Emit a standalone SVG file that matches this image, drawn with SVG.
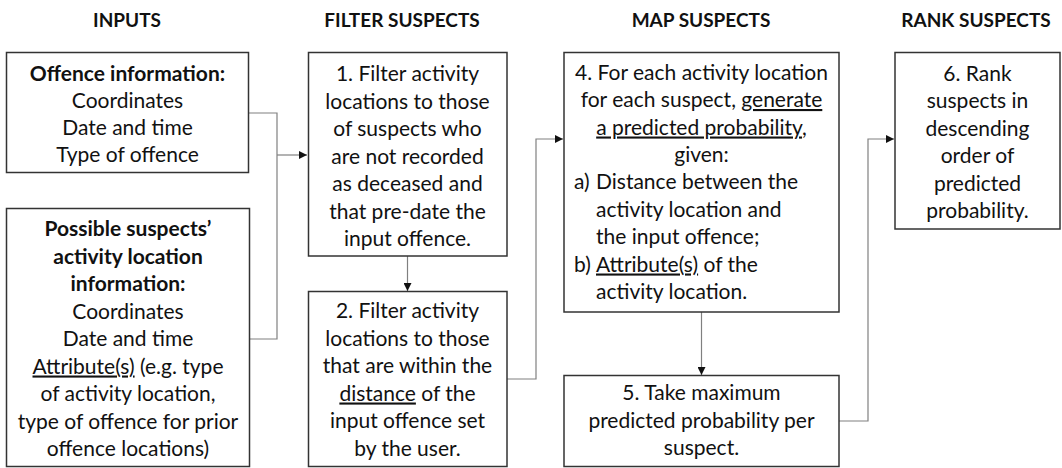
<svg xmlns="http://www.w3.org/2000/svg" width="1062" height="468" viewBox="0 0 1062 468">
<defs>
<style>
.t{font-family:Lato,"Liberation Sans",sans-serif;font-size:21px;fill:#111;}
.c{text-anchor:middle;}
.b{font-weight:bold;}
.h{font-family:Lato,"Liberation Sans",sans-serif;font-size:19px;font-weight:bold;fill:#111;text-anchor:middle;}
.box{fill:#fff;stroke:#333;stroke-width:1.5;}
.ln{fill:none;stroke:#808080;stroke-width:1.2;}
.u{text-decoration:underline;}
</style>
<marker id="ah" viewBox="0 0 10 10" refX="10" refY="5" markerWidth="8" markerHeight="8" markerUnits="userSpaceOnUse" orient="auto">
<path d="M0,0 L10,5 L0,10 z" fill="#111"/>
</marker>
</defs>
<rect width="1062" height="468" fill="#fff"/>
<g id="titles">
<text class="h" x="127" y="27">INPUTS</text>
<text class="h" x="402" y="27">FILTER SUSPECTS</text>
<text class="h" x="701" y="27">MAP SUSPECTS</text>
<text class="h" x="976" y="27">RANK SUSPECTS</text>
</g>
<g id="connectors">
<path class="ln" d="M248,113 H277 V339 H250"/>
<path class="ln" d="M277,155 H307" marker-end="url(#ah)"/>
<path class="ln" d="M407.5,256 V291" marker-end="url(#ah)"/>
<path class="ln" d="M507,379 H536 V139 H563" marker-end="url(#ah)"/>
<path class="ln" d="M701.5,312 V375" marker-end="url(#ah)"/>
<path class="ln" d="M839,421 H868 V139 H894" marker-end="url(#ah)"/>
</g>
<g id="offence-info">
<rect class="box" x="6.5" y="52.5" width="242" height="120"/>
<text class="t c" x="127.5"><tspan class="b" x="127.5" y="80.5">Offence information:</tspan><tspan x="127.5" y="107.5">Coordinates</tspan><tspan x="127.5" y="134.5">Date and time</tspan><tspan x="127.5" y="161.5">Type of offence</tspan></text>
</g>
<g id="suspects-info">
<rect class="box" x="6.5" y="208.5" width="243" height="258"/>
<text class="t c" x="128"><tspan class="b" x="128" y="236">Possible suspects’</tspan><tspan class="b" x="128" y="263.5">activity location</tspan><tspan class="b" x="128" y="291">information:</tspan><tspan x="128" y="318.5">Coordinates</tspan><tspan x="128" y="346">Date and time</tspan><tspan x="128" y="373.5"><tspan class="u">Attribute(s)</tspan> (e.g. type</tspan><tspan x="128" y="401">of activity location,</tspan><tspan x="128" y="428.5">type of offence for prior</tspan><tspan x="128" y="456">offence locations)</tspan></text>
</g>
<g id="step1">
<rect class="box" x="308.5" y="52.5" width="198.5" height="203.5"/>
<text class="t c"><tspan x="407.5" y="81">1. Filter activity</tspan><tspan x="407.5" y="108.5">locations to those</tspan><tspan x="407.5" y="136">of suspects who</tspan><tspan x="407.5" y="163.5">are not recorded</tspan><tspan x="407.5" y="191">as deceased and</tspan><tspan x="407.5" y="218.5">that pre-date the</tspan><tspan x="407.5" y="246">input offence.</tspan></text>
</g>
<g id="step2">
<rect class="box" x="308.5" y="291.5" width="198.5" height="175"/>
<text class="t c"><tspan x="407.5" y="318">2. Filter activity</tspan><tspan x="407.5" y="345.5">locations to those</tspan><tspan x="407.5" y="373">that are within the</tspan><tspan x="407.5" y="400.5"><tspan class="u">distance</tspan> of the</tspan><tspan x="407.5" y="428">input offence set</tspan><tspan x="407.5" y="455.5">by the user.</tspan></text>
</g>
<g id="step4">
<rect class="box" x="564" y="52.5" width="275" height="259.5"/>
<text class="t c"><tspan x="701.5" y="79.5">4. For each activity location</tspan><tspan x="701.5" y="107">for each suspect, <tspan class="u">generate</tspan></tspan><tspan x="701.5" y="134.5"><tspan class="u">a predicted probability</tspan>,</tspan><tspan x="701.5" y="162">given:</tspan></text>
<text class="t"><tspan x="574" y="189">a)</tspan><tspan x="596" y="189">Distance between the</tspan><tspan x="596" y="216.5">activity location and</tspan><tspan x="596" y="244">the input offence;</tspan><tspan x="574" y="271.5">b)</tspan><tspan x="596" y="271.5"><tspan class="u">Attribute(s)</tspan> of the</tspan><tspan x="596" y="299">activity location.</tspan></text>
</g>
<g id="step5">
<rect class="box" x="564" y="375.5" width="275" height="91"/>
<text class="t c"><tspan x="701.5" y="400">5. Take maximum</tspan><tspan x="701.5" y="427.5">predicted probability per</tspan><tspan x="701.5" y="455">suspect.</tspan></text>
</g>
<g id="step6">
<rect class="box" x="895" y="52.5" width="165" height="176.5"/>
<text class="t c"><tspan x="977.5" y="80.5">6. Rank</tspan><tspan x="977.5" y="108">suspects in</tspan><tspan x="977.5" y="135.5">descending</tspan><tspan x="977.5" y="163">order of</tspan><tspan x="977.5" y="190.5">predicted</tspan><tspan x="977.5" y="218">probability.</tspan></text>
</g>
</svg>
